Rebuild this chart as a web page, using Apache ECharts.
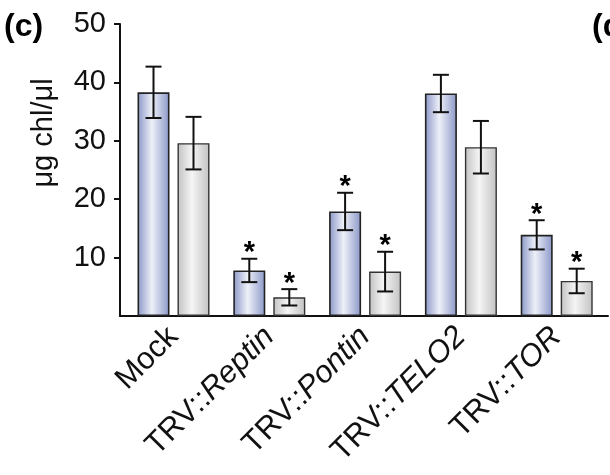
<!DOCTYPE html>
<html><head><meta charset="utf-8">
<script src="https://cdn.jsdelivr.net/npm/echarts@6/dist/echarts.min.js"></script>
<style>html,body{margin:0;padding:0;background:#fff}#c{width:610px;height:475px}</style>
</head><body><div id="c"></div>
<script>
const categories = ['Mock', 'TRV::Reptin', 'TRV::Pontin', 'TRV::TELO2', 'TRV::TOR'];
const seriesA = [38.3, 7.8, 17.9, 38.1, 13.9];
const errA = [4.4, 2.0, 3.2, 3.2, 2.5];
const seriesB = [29.6, 3.2, 7.6, 28.9, 6.0];
const errB = [4.5, 1.4, 3.4, 4.5, 2.1];
const sigA = [0, 1, 1, 0, 1];
const sigB = [0, 1, 1, 0, 1];
const yTicks = [10, 20, 30, 40, 50];
const yLabel = 'μg chl/μl';
const panelLabel = '(c)';
const nextPanelLabel = '(d)';

const FONT = 'Liberation Sans, Arial, sans-serif';
const chart = echarts.init(document.getElementById('c'), null, {renderer: 'canvas'});

function grad(edge, mid) {
  return {type: 'linear', x: 0, y: 0, x2: 1, y2: 0,
    colorStops: [{offset: 0, color: edge}, {offset: 0.45, color: mid}, {offset: 1, color: edge}]};
}

function errRender(idx) {
  return function (params, api) {
    const i = api.value(0), v = api.value(1), e = api.value(2), s = api.value(3);
    const layout = api.barLayout({barWidth: 32, barGap: '25%', count: 2});
    const off = layout[idx].offsetCenter;
    const t = api.coord([i, v + e]);
    const b = api.coord([i, v - e]);
    const x = t[0] + off;
    const hw = 8;
    const st = {stroke: '#111', lineWidth: 2};
    const children = [
      {type: 'line', shape: {x1: x, y1: t[1], x2: x, y2: b[1]}, style: st},
      {type: 'line', shape: {x1: x - hw, y1: t[1], x2: x + hw, y2: t[1]}, style: st},
      {type: 'line', shape: {x1: x - hw, y1: b[1], x2: x + hw, y2: b[1]}, style: st}
    ];
    if (s) {
      children.push({type: 'text', x: x, y: t[1] + 9,
        style: {text: '*', font: 'bold 29px ' + FONT, fill: '#000', align: 'center', verticalAlign: 'bottom'}});
    }
    return {type: 'group', children: children};
  };
}

function errData(vals, errs, sig) {
  return vals.map((v, i) => [i, v, errs[i], sig[i]]);
}

const option = {
  animation: false,
  backgroundColor: '#fff',
  grid: [
    {left: 120, right: 2, top: 24, bottom: 159},
    {left: 125.6, right: 5.4, top: 24, bottom: 159}
  ],
  xAxis: [
    {gridIndex: 0, type: 'value', min: 0, max: 1,
      axisLine: {show: true, lineStyle: {color: '#111', width: 2}},
      axisTick: {show: false}, axisLabel: {show: false}, splitLine: {show: false}},
    {gridIndex: 1, type: 'category', data: categories,
      axisLine: {show: false}, axisTick: {show: false},
      axisLabel: {rotate: 45, margin: 16, interval: 0, fontSize: 31, fontFamily: FONT, color: '#111',
        formatter: function (v) {
          const p = v.split('::');
          if (p.length < 2) return '{n|' + v + '}';
          return '{n|' + p[0] + '::}{i|' + p[1] + '}';
        },
        rich: {
          n: {fontSize: 31, fontFamily: FONT, color: '#111'},
          i: {fontSize: 31, fontFamily: FONT, fontStyle: 'italic', color: '#111'}
        }}}
  ],
  yAxis: [
    {gridIndex: 0, type: 'value', min: 0, max: 50, interval: 10,
      axisLine: {show: true, lineStyle: {color: '#111', width: 2}},
      axisTick: {show: true, length: 6, lineStyle: {color: '#111', width: 2}, customValues: yTicks},
      axisLabel: {fontSize: 29, fontFamily: FONT, color: '#111', margin: 14, customValues: yTicks},
      splitLine: {show: false}},
    {gridIndex: 1, type: 'value', min: 0, max: 50, show: false, splitLine: {show: false}}
  ],
  graphic: [
    {type: 'text', left: 4, top: 11, style: {text: panelLabel, font: 'bold 32px ' + FONT, fill: '#000'}},
    {type: 'text', left: 592, top: 11, style: {text: nextPanelLabel, font: 'bold 32px ' + FONT, fill: '#000'}},
    {type: 'text', x: 44, y: 133, rotation: Math.PI / 2,
      style: {text: yLabel, font: '29px ' + FONT, fill: '#111', align: 'center', verticalAlign: 'middle'}}
  ],
  series: [
    {type: 'bar', xAxisIndex: 1, yAxisIndex: 1, data: seriesA, barWidth: 32, barGap: '25%',
      itemStyle: {color: grad('#8a97c8', '#eef0f8'), borderColor: '#222', borderWidth: 1.6}},
    {type: 'bar', xAxisIndex: 1, yAxisIndex: 1, data: seriesB, barWidth: 32, barGap: '25%',
      itemStyle: {color: grad('#c2c2c2', '#f5f5f5'), borderColor: '#333', borderWidth: 1.4}},
    {type: 'custom', xAxisIndex: 1, yAxisIndex: 1, renderItem: errRender(0), z: 5,
      encode: {x: 0, y: 1}, data: errData(seriesA, errA, sigA)},
    {type: 'custom', xAxisIndex: 1, yAxisIndex: 1, renderItem: errRender(1), z: 5,
      encode: {x: 0, y: 1}, data: errData(seriesB, errB, sigB)}
  ]
};
chart.setOption(option);
</script>
</body></html>
